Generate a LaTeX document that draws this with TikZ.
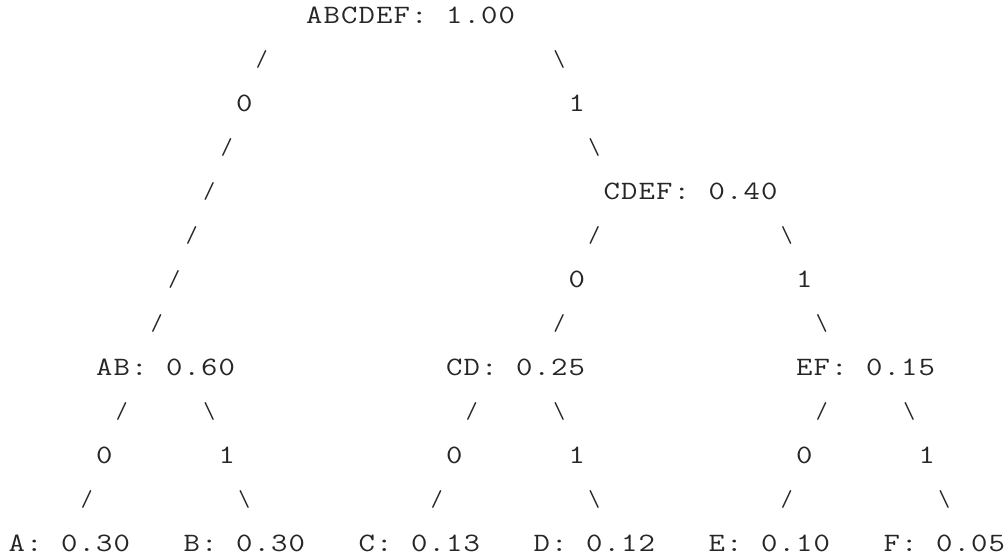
\documentclass[tikz,border=0pt]{standalone}
\usepackage{fontspec}
\usepackage{graphicx}
\tikzset{
  tok/.style={anchor=base west, inner sep=0pt, outer sep=0pt,
    font=\ttfamily\fontsize{26.5}{32}\selectfont, text=black!85},
  sl/.style={anchor=center, inner sep=0pt, outer sep=0pt,
    font=\ttfamily\fontsize{23}{28}\selectfont, text=black!85}}
\newcommand{\mono}[1]{\monoi#1\relax}
\def\monoi#1{\ifx#1\relax\else\makebox[17.5pt][c]{\scalebox{1.2}[1]{#1}}\expandafter\monoi\fi}
% text token: name, column, row, text (use ~ for a space)
\newcommand{\tk}[4]{\node[tok] (#1) at ({8+17.5*(#2)},{23.1+44*((#3)-1)}) {\mono{#4}};}
% slash token centred in its cell
\newcommand{\sk}[4]{\node[sl] (#1) at ({8+17.5*((#2)+0.5)},{15+44*((#3)-1)}) {#4};}
\newcommand{\bsl}{\textbackslash}
\begin{document}
\begin{tikzpicture}[x=1pt,y=-1pt]
\useasboundingbox (0,0) rectangle (1008,556);
% row 1
\tk{root}{17}{1}{ABCDEF:~1.00}
% row 2
\sk{s1}{14}{2}{/}
\sk{s2}{31}{2}{\bsl}
% row 3
\tk{e1}{13}{3}{0}
\tk{e2}{32}{3}{1}
% row 4
\sk{s3}{12}{4}{/}
\sk{s4}{33}{4}{\bsl}
% row 5
\sk{s5}{11}{5}{/}
\tk{cdef}{34}{5}{CDEF:~0.40}
% row 6
\sk{s6}{10}{6}{/}
\sk{s7}{33}{6}{/}
\sk{s8}{44}{6}{\bsl}
% row 7
\sk{s9}{9}{7}{/}
\tk{e3}{32}{7}{0}
\tk{e4}{45}{7}{1}
% row 8
\sk{s10}{8}{8}{/}
\sk{s11}{31}{8}{/}
\sk{s12}{46}{8}{\bsl}
% row 9
\tk{ab}{5}{9}{AB:~0.60}
\tk{cd}{25}{9}{CD:~0.25}
\tk{ef}{45}{9}{EF:~0.15}
% row 10
\sk{s13}{6}{10}{/}
\sk{s14}{11}{10}{\bsl}
\sk{s15}{26}{10}{/}
\sk{s16}{31}{10}{\bsl}
\sk{s17}{46}{10}{/}
\sk{s18}{51}{10}{\bsl}
% row 11
\tk{e5}{5}{11}{0}
\tk{e6}{12}{11}{1}
\tk{e7}{25}{11}{0}
\tk{e8}{32}{11}{1}
\tk{e9}{45}{11}{0}
\tk{e10}{52}{11}{1}
% row 12
\sk{s19}{4}{12}{/}
\sk{s20}{13}{12}{\bsl}
\sk{s21}{24}{12}{/}
\sk{s22}{33}{12}{\bsl}
\sk{s23}{44}{12}{/}
\sk{s24}{53}{12}{\bsl}
% row 13
\tk{la}{0}{13}{A:~0.30}
\tk{lb}{10}{13}{B:~0.30}
\tk{lc}{20}{13}{C:~0.13}
\tk{ld}{30}{13}{D:~0.12}
\tk{le}{40}{13}{E:~0.10}
\tk{lf}{50}{13}{F:~0.05}
\end{tikzpicture}
\end{document}
